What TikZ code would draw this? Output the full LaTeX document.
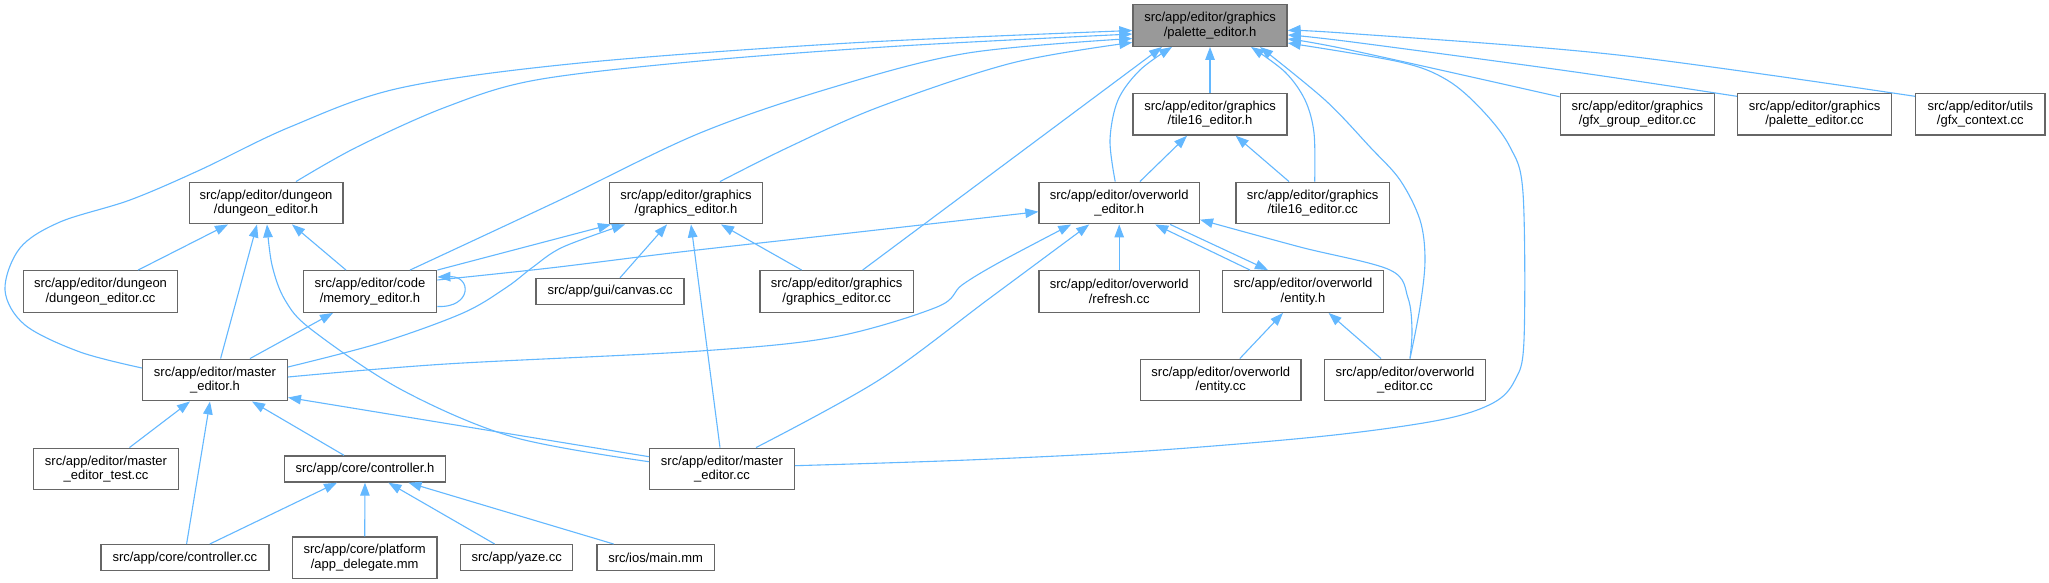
\documentclass[tikz,border=0pt]{standalone}
\usepackage{fontspec}
\setmainfont{Liberation Sans}
\usetikzlibrary{arrows.meta}
\definecolor{edgeblue}{HTML}{63B8FF}
\definecolor{boxborder}{HTML}{666666}
\definecolor{mainfill}{HTML}{999999}
\begin{document}
\begin{tikzpicture}[x=1pt,y=-1pt,
  box/.style={draw=boxborder, line width=1.4pt, fill=white, align=center, inner sep=0pt, minimum height=41.5pt, font=\fontsize{13}{14.3}\selectfont},
  onebox/.style={box, minimum height=26pt},
  edge/.style={draw=edgeblue, line width=1.1pt, -{Triangle[length=13pt,width=9.5pt]}},
  sm/.style={smooth, tension=0.55}
]
\useasboundingbox (0,0) rectangle (2049,583);
\fill[white] (0,0) rectangle (2049,583);

% nodes
\node[box, fill=mainfill, minimum width=154pt] (P) at (1210,25.5) {src/app/editor/graphics\\/palette\_editor.h};
\node[box, minimum width=154pt] (T16H) at (1210,114.3) {src/app/editor/graphics\\/tile16\_editor.h};
\node[box, minimum width=154pt] (GGE) at (1637.3,114.3) {src/app/editor/graphics\\/gfx\_group\_editor.cc};
\node[box, minimum width=154pt] (PEC) at (1814.5,114.3) {src/app/editor/graphics\\/palette\_editor.cc};
\node[box, minimum width=129.4pt] (GFX) at (1980.3,114.3) {src/app/editor/utils\\/gfx\_context.cc};
\node[box, minimum width=153.6pt] (DEH) at (266,203) {src/app/editor/dungeon\\/dungeon\_editor.h};
\node[box, minimum width=153.4pt] (GEH) at (686,203) {src/app/editor/graphics\\/graphics\_editor.h};
\node[box, minimum width=160.3pt] (OEH) at (1119.2,203) {src/app/editor/overworld\\\_editor.h};
\node[box, minimum width=153.6pt] (T16C) at (1312.7,203) {src/app/editor/graphics\\/tile16\_editor.cc};
\node[box, minimum width=154pt] (DEC) at (100.5,291.5) {src/app/editor/dungeon\\/dungeon\_editor.cc};
\node[box, minimum width=133.4pt] (MEH) at (370,291.5) {src/app/editor/code\\/memory\_editor.h};
\node[onebox, minimum width=148.3pt] (CAN) at (610,291.5) {src/app/gui/canvas.cc};
\node[box, minimum width=153.6pt] (GEC) at (836.6,291.5) {src/app/editor/graphics\\/graphics\_editor.cc};
\node[box, minimum width=160.3pt] (REF) at (1119.2,291.5) {src/app/editor/overworld\\/refresh.cc};
\node[box, minimum width=160.6pt] (ENH) at (1303,291.5) {src/app/editor/overworld\\/entity.h};
\node[box, minimum width=144.6pt] (MH) at (215,380) {src/app/editor/master\\\_editor.h};
\node[box, minimum width=160.4pt] (ENC) at (1220.8,380) {src/app/editor/overworld\\/entity.cc};
\node[box, minimum width=160.7pt] (OEC) at (1405,380) {src/app/editor/overworld\\\_editor.cc};
\node[box, minimum width=145pt] (MET) at (106,469) {src/app/editor/master\\\_editor\_test.cc};
\node[onebox, minimum width=161pt] (CH) at (365,469) {src/app/core/controller.h};
\node[box, minimum width=144.6pt] (MEC) at (722,469) {src/app/editor/master\\\_editor.cc};
\node[onebox, minimum width=168pt] (CC) at (184.8,557.7) {src/app/core/controller.cc};
\node[box, minimum width=144.6pt] (AD) at (364.7,557.7) {src/app/core/platform\\/app\_delegate.mm};
\node[onebox, minimum width=112pt] (YZ) at (516.7,557.7) {src/app/yaze.cc};
\node[onebox, minimum width=117.4pt] (MM) at (655.6,557.7) {src/ios/main.mm};

% edges into palette_editor.h
\draw[edge] plot[sm] coordinates {([yshift=12pt]MH.west) (80,352) (25,325) (5,290) (20,248) (60,222) (130,200) (200,170) (290,127) (400,88) (580,63) (850,43) ([yshift=-5pt]P.west)};
\draw[edge] plot[sm] coordinates {([xshift=30pt]DEH.north) (357,147) (446,107) (536,80) (700,61) (900,46) ([yshift=-8.5pt]P.west)};
\draw[edge] plot[sm] coordinates {([xshift=40pt]MEH.north) (560,200) (700,133) (834,87) (968,53) ([yshift=-13pt]P.west)};
\draw[edge] plot[sm] coordinates {([xshift=34pt]GEH.north) (789,147) (879,107) (1012,63) ([yshift=-17pt]P.west)};
\draw[edge] ([xshift=26pt]GEC.north) -- ([xshift=-48pt]P.south);
\draw[edge] plot[sm] coordinates {([xshift=-4pt]OEH.north) (1110,140) (1118,100) (1140,70) ([xshift=-38pt]P.south)};
\draw[edge] (T16H.north) -- (P.south);
\draw[edge] plot[sm] coordinates {([xshift=2pt]T16C.north) (1314,133) (1305,100) (1285,72) ([xshift=41pt]P.south)};
\draw[edge] plot[sm] coordinates {([xshift=5pt]OEC.north) (1420,307) (1425,260) (1420,220) (1400,180) (1370,147) (1325,100) ([xshift=50pt]P.south)};
\draw[edge] plot[sm] coordinates {([yshift=18pt]GFX.west) (1618,55) (1350,33.5) ([yshift=-5pt]P.east)};
\draw[edge] plot[sm] coordinates {([yshift=18pt]PEC.west) (1573,71.7) (1350,41.7) ([yshift=-9.5pt]P.east)};
\draw[edge] plot[sm] coordinates {([yshift=17.5pt]GGE.west) (1350,50) ([yshift=-13.5pt]P.east)};
\draw[edge] plot[sm] coordinates {([yshift=3.3pt]MEC.east) (968,460) (1146,451) (1325,436) (1440,420) (1493,403) (1515,380) (1524,340) (1523,193) (1510,147) (1482,110) (1447,80) (1400,62) ([yshift=-17.5pt]P.east)};

% tile16_editor.h
\draw[edge] ([xshift=20.7pt]OEH.north) -- ([xshift=-23pt]T16H.south);
\draw[edge] ([xshift=-23.7pt]T16C.north) -- ([xshift=25.7pt]T16H.south);

% dungeon_editor.h
\draw[edge] ([xshift=37.6pt]DEC.north) -- ([xshift=-38pt]DEH.south);
\draw[edge] ([xshift=5.6pt]MH.north) -- ([xshift=-9pt]DEH.south);
\draw[edge] plot[sm] coordinates {([yshift=7.3pt]MEC.west) (513,437) (402,390) (312,330) (285,300) (272,265) ([xshift=1pt]DEH.south)};
\draw[edge] ([xshift=-24pt]MEH.north) -- ([xshift=26pt]DEH.south);

% graphics_editor.h
\draw[edge] (MEH.north east) -- ([xshift=-75pt]GEH.south);
\draw[edge] plot[sm] coordinates {([yshift=13pt]MH.east) (380,343) (463,313) (507,287) (533,267) (563,247) ([xshift=-61pt]GEH.south)};
\draw[edge] ([xshift=10pt]CAN.north) -- ([xshift=-19pt]GEH.south);
\draw[edge] ([xshift=-2pt]MEC.north) -- ([xshift=5pt]GEH.south);
\draw[edge] ([xshift=-35pt]GEC.north) -- ([xshift=35pt]GEH.south);

% overworld_editor.h
\draw[edge] plot[sm] coordinates {([yshift=11.5pt]MEH.east) (550,268) (680,252) (850,233) ([yshift=-8.7pt]OEH.west)};
\draw[edge] plot[sm] coordinates {([yshift=3pt]MH.east) (446,364) (700,351) (834,337) (937,307) (962,285) (1000,262) ([xshift=-48pt]OEH.south)};
\draw[edge] plot[sm] coordinates {([xshift=34pt]MEC.north) (879,380) (990,298) ([xshift=-30pt]OEH.south)};
\draw[edge] (REF.north) -- (OEH.south);
\draw[edge] ([xshift=-53pt]ENH.north) -- ([xshift=36pt]OEH.south);
\draw[edge] ([xshift=51pt]OEH.south) -- ([xshift=-35pt]ENH.north);
\draw[edge] plot[sm] coordinates {([xshift=5pt]OEC.north) (1412,330) (1408,298) (1390,270) (1300,247) ([yshift=-16.7pt]OEH.east)};

% memory_editor.h
\draw[edge] ([yshift=-15pt]MEH.east) .. controls (472,308) and (472,276) .. ([yshift=14.5pt]MEH.east);
\draw[edge] ([xshift=35pt]MH.north) -- ([xshift=-37pt]MEH.south);

% master_editor.h
\draw[edge] ([xshift=23.5pt]MET.north) -- ([xshift=-25pt]MH.south);
\draw[edge] ([xshift=1.8pt]CC.north) -- ([xshift=-5pt]MH.south);
\draw[edge] ([xshift=-21pt]CH.north) -- ([xshift=37pt]MH.south);
\draw[edge] ([yshift=12.3pt]MEC.west) -- ([yshift=-17.5pt]MH.east);

% entity.h
\draw[edge] ([xshift=19pt]ENC.north) -- ([xshift=-20pt]ENH.south);
\draw[edge] ([xshift=-24pt]OEC.north) -- ([xshift=25.6pt]ENH.south);

% controller.h
\draw[edge] ([xshift=25pt]CC.north) -- ([xshift=-28pt]CH.south);
\draw[edge] (AD.north) -- (CH.south);
\draw[edge] ([xshift=-22pt]YZ.north) -- ([xshift=23.4pt]CH.south);
\draw[edge] ([xshift=-42pt]MM.north) -- ([xshift=43.5pt]CH.south);
\end{tikzpicture}
\end{document}
